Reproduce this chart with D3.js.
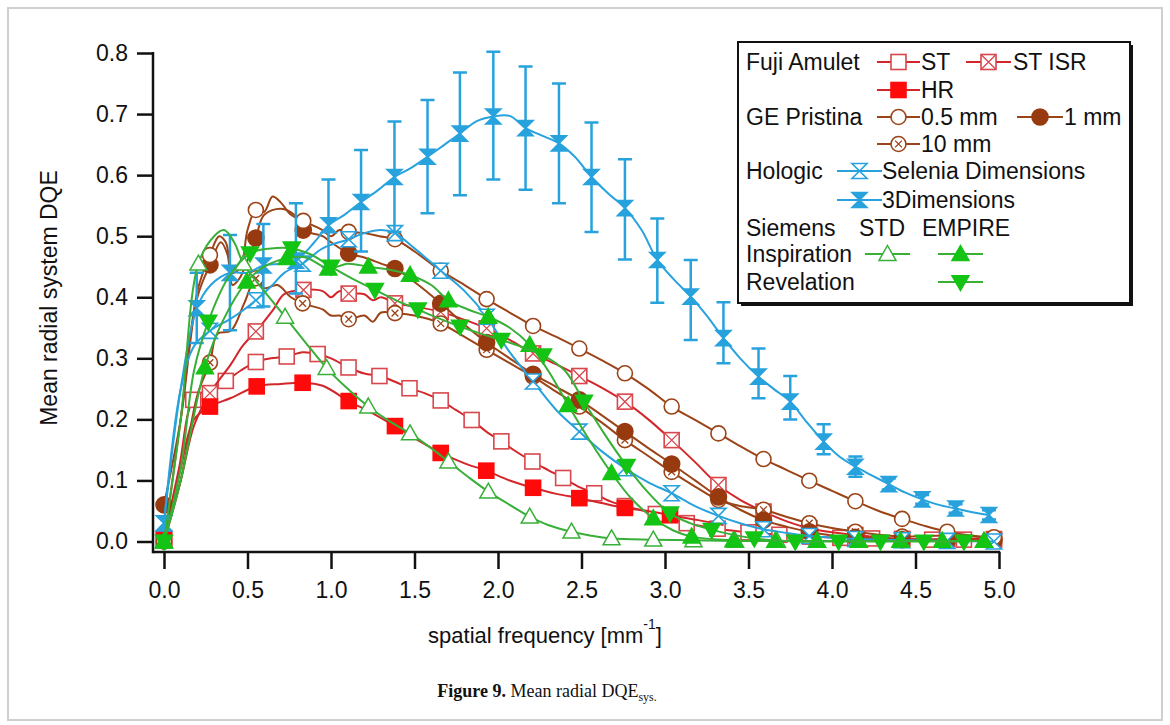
<!DOCTYPE html>
<html>
<head>
<meta charset="utf-8">
<script src="https://cdn.jsdelivr.net/npm/d3@7"></script>
<style>
  body { margin: 0; background: #fff; }
  text { font-family: "Liberation Sans", Arial, sans-serif; fill: #111; }
</style>
</head>
<body>
<svg id="chart" width="1170" height="725"></svg>
<script>
// ---- data : [spatial frequency, DQE] ----
const xTicks = [0, 0.5, 1, 1.5, 2, 2.5, 3, 3.5, 4, 4.5, 5];
const yTicks = [0, 0.1, 0.2, 0.3, 0.4, 0.5, 0.6, 0.7, 0.8];

// Fuji Amulet ST (open square)
const fujiStMarks = [[0,0.005],[0.175,0.232],[0.37,0.263],[0.55,0.294],[0.735,0.303],[0.92,0.307],[1.105,0.285],[1.29,0.271],[1.47,0.251],[1.657,0.231],[1.842,0.199],[2.02,0.164],[2.206,0.131],[2.39,0.104],[2.576,0.079],[2.76,0.058],[2.945,0.045],[3.13,0.03],[3.315,0.021],[3.5,0.015],[3.685,0.011],[3.87,0.008],[4.05,0.006],[4.24,0.005],[4.42,0.004],[4.6,0.003],[4.79,0.003],[4.97,0.003]];
const fujiStExtra = [[0.09,0.12],[0.27,0.25],[0.46,0.28],[0.64,0.3],[0.83,0.31],[1.0,0.3],[1.2,0.275],[1.38,0.262],[1.56,0.243],[1.75,0.215],[1.93,0.18],[2.11,0.147],[2.3,0.117],[2.48,0.09],[2.67,0.066]];

// Fuji Amulet ST ISR (crossed square)
const fujiIsrMarks = [[0,0.005],[0.275,0.243],[0.55,0.344],[0.835,0.412],[1.106,0.406],[1.383,0.39],[1.657,0.376],[1.932,0.349],[2.21,0.308],[2.487,0.271],[2.76,0.229],[3.04,0.166],[3.32,0.0925],[3.59,0.049],[3.864,0.0216],[4.14,0.0107],[4.42,0.004],[4.69,0.004],[4.97,0.004]];
const fujiIsrExtra = [[0.1,0.1],[0.18,0.19],[0.4,0.29],[0.47,0.32],[0.65,0.378],[0.72,0.405],[0.95,0.41],[1.0,0.4],[1.05,0.41],[1.2,0.405],[1.25,0.395],[1.3,0.4],[1.5,0.385],[1.8,0.363],[2.07,0.33],[2.35,0.29],[2.62,0.252],[2.9,0.2],[3.18,0.13],[3.45,0.068],[3.73,0.033],[4.0,0.015]];

// Fuji Amulet HR (filled square)
const fujiHrMarks = [[0,0.003],[0.275,0.221],[0.555,0.254],[0.83,0.26],[1.106,0.23],[1.383,0.189],[1.657,0.145],[1.93,0.116],[2.21,0.088],[2.487,0.071],[2.76,0.055],[3.03,0.043]];
const fujiHrExtra = [[0.1,0.12],[0.18,0.2],[0.4,0.235],[0.7,0.258],[0.95,0.255],[1.25,0.21],[1.52,0.166],[1.8,0.128],[2.07,0.1],[2.35,0.078],[2.62,0.063],[2.9,0.05],[3.2,0.035],[3.35,0.027]];

// GE Pristina 0.5 mm (open circle)
const ge05Marks = [[0,0.0],[0.275,0.469],[0.55,0.543],[0.834,0.525],[1.106,0.507],[1.383,0.495],[1.657,0.4435],[1.932,0.397],[2.21,0.353],[2.487,0.316],[2.76,0.2755],[3.04,0.221],[3.32,0.177],[3.59,0.135],[3.864,0.0996],[4.14,0.066],[4.42,0.037],[4.69,0.016],[4.97,0.007]];
const ge05Extra = [[0.1,0.2],[0.2,0.41],[0.33,0.5],[0.37,0.49],[0.41,0.44],[0.46,0.45],[0.5,0.51],[0.6,0.54],[0.65,0.565],[0.7,0.555],[0.76,0.535],[0.95,0.51],[1.0,0.5],[1.05,0.51],[1.2,0.505],[1.29,0.5],[1.5,0.475],[1.8,0.42],[2.07,0.375],[2.35,0.335],[2.62,0.297],[2.9,0.25],[3.18,0.199],[3.45,0.156],[3.73,0.117],[4.0,0.083],[4.28,0.05],[4.55,0.026],[4.83,0.01]];

// GE Pristina 1 mm (filled circle)
const ge1Marks = [[0,0.06],[0.275,0.453],[0.55,0.497],[0.834,0.51],[1.106,0.472],[1.383,0.447],[1.657,0.39],[1.932,0.326],[2.21,0.274],[2.487,0.232],[2.76,0.18],[3.04,0.127],[3.32,0.073],[3.59,0.035],[3.864,0.016],[4.14,0.007],[4.42,0.003],[4.69,0.002],[4.97,0.002]];
const ge1Extra = [[0.1,0.2],[0.2,0.4],[0.34,0.49],[0.38,0.47],[0.41,0.42],[0.45,0.43],[0.5,0.46],[0.6,0.535],[0.7,0.545],[0.78,0.535],[0.95,0.5],[1.0,0.49],[1.2,0.465],[1.3,0.455],[1.5,0.425],[1.8,0.355],[2.07,0.3],[2.35,0.253],[2.62,0.207],[2.9,0.153],[3.18,0.1],[3.45,0.052],[3.73,0.024],[4.0,0.01]];

// GE Pristina 10 mm (crossed circle)
const ge10Marks = [[0,0.0],[0.275,0.293],[0.55,0.431],[0.83,0.39],[1.106,0.364],[1.383,0.374],[1.657,0.357],[1.932,0.314],[2.21,0.27],[2.487,0.221],[2.76,0.166],[3.04,0.114],[3.32,0.068],[3.59,0.052],[3.864,0.03],[4.14,0.016],[4.42,0.008],[4.69,0.01],[4.97,0.006]];
const ge10Extra = [[0.1,0.1],[0.2,0.24],[0.32,0.34],[0.4,0.345],[0.48,0.39],[0.6,0.415],[0.68,0.42],[0.76,0.4],[0.95,0.38],[1.0,0.37],[1.05,0.37],[1.2,0.37],[1.25,0.36],[1.3,0.375],[1.5,0.37],[1.8,0.335],[2.07,0.292],[2.35,0.245],[2.62,0.195],[2.9,0.14],[3.18,0.09],[3.45,0.058],[3.73,0.04],[4.0,0.022],[4.28,0.011]];

// Hologic Selenia Dimensions (open hourglass)
const selMarks = [[0,0.03],[0.275,0.345],[0.55,0.395],[0.83,0.455],[1.106,0.495],[1.383,0.505],[1.657,0.4435],[1.932,0.368],[2.21,0.262],[2.487,0.18],[2.76,0.12],[3.04,0.079],[3.32,0.042],[3.59,0.02],[3.864,0.009],[4.14,0.004],[4.42,0.002],[4.69,0.001],[4.97,0.0]];
const selExtra = [[0.1,0.25],[0.18,0.32],[0.4,0.365],[0.48,0.38],[0.65,0.42],[0.72,0.44],[0.95,0.48],[1.2,0.505],[1.3,0.51],[1.5,0.48],[1.8,0.41],[2.07,0.31],[2.35,0.215],[2.62,0.148],[2.9,0.097],[3.18,0.058],[3.45,0.03],[3.73,0.014]];

// Hologic 3Dimensions (filled hourglass) with error bars
const dim3Marks = [[0,0.03],[0.196,0.382],[0.395,0.44],[0.595,0.452],[0.79,0.46],[0.985,0.518],[1.18,0.556],[1.38,0.597],[1.578,0.63],[1.772,0.668],[1.972,0.696],[2.165,0.677],[2.365,0.652],[2.56,0.597],[2.76,0.546],[2.954,0.461],[3.154,0.401],[3.35,0.333],[3.56,0.27],[3.75,0.229],[3.95,0.1635],[4.14,0.1225],[4.34,0.094],[4.54,0.069],[4.74,0.054],[4.94,0.0434]];
const dim3Extra = [[0.1,0.25],[0.28,0.42],[0.5,0.44],[0.7,0.455],[0.9,0.49],[1.08,0.535],[1.28,0.575],[1.48,0.612],[1.68,0.65],[1.87,0.688],[2.07,0.697],[2.26,0.665],[2.46,0.63],[2.66,0.57],[2.86,0.51],[3.05,0.43],[3.25,0.37],[3.45,0.3],[3.65,0.25],[3.85,0.195],[4.04,0.14],[4.24,0.108],[4.44,0.08],[4.64,0.06],[4.84,0.048]];
const dim3ErrLow  = [0.02,0.325,0.346,0.385,0.406,0.45,0.475,0.507,0.5375,0.567,0.593,0.576,0.554,0.507,0.462,0.391,0.33,0.292,0.2345,0.2,0.143,0.106,0.085,0.062,0.047,0.036];
const dim3ErrHigh = [0.04,0.44,0.502,0.52,0.554,0.593,0.641,0.688,0.723,0.768,0.802,0.778,0.75,0.686,0.626,0.529,0.461,0.392,0.316,0.271,0.192,0.139,0.103,0.076,0.061,0.051];

// Siemens Inspiration STD (open triangle up)
const inspStdMarks = [[0,0.0],[0.206,0.455],[0.475,0.455],[0.725,0.368],[0.974,0.284],[1.223,0.221],[1.473,0.177],[1.703,0.131],[1.942,0.0816],[2.19,0.0407],[2.44,0.016],[2.68,0.005],[2.93,0.003],[3.17,0.002],[3.42,0.001],[3.67,0.001],[3.91,0.001],[4.16,0.001],[4.41,0.001],[4.66,0.001],[4.91,0.001]];
const inspStdExtra = [[0.1,0.2],[0.3,0.5],[0.36,0.51],[0.42,0.49],[0.6,0.41],[0.85,0.325],[1.1,0.25],[1.35,0.197],[1.6,0.153],[1.82,0.106],[2.07,0.06],[2.3,0.027],[2.55,0.01]];

// Siemens Inspiration EMPIRE (filled triangle up)
const inspEmpMarks = [[0,0.0],[0.245,0.285],[0.495,0.4255],[0.735,0.464],[0.984,0.447],[1.223,0.45],[1.473,0.4365],[1.703,0.395],[1.942,0.368],[2.19,0.322],[2.42,0.2235],[2.68,0.112],[2.93,0.038],[3.16,0.008],[3.41,0.002],[3.66,0.001],[3.91,0.001],[4.16,0.001],[4.41,0.001],[4.66,0.001],[4.91,0.001]];
const inspEmpExtra = [[0.1,0.1],[0.35,0.36],[0.6,0.45],[0.85,0.465],[1.1,0.455],[1.35,0.445],[1.6,0.42],[1.82,0.38],[2.07,0.35],[2.3,0.28],[2.55,0.165],[2.8,0.07],[3.05,0.018]];

// Siemens Revelation EMPIRE (filled triangle down)
const revEmpMarks = [[0,0.0],[0.265,0.36],[0.515,0.472],[0.765,0.48],[1.0,0.45],[1.263,0.412],[1.52,0.38],[1.772,0.352],[2.02,0.33],[2.27,0.305],[2.515,0.229],[2.77,0.124],[3.03,0.046],[3.28,0.019],[3.535,0.005],[3.78,0.0],[4.04,0.0],[4.29,0.0],[4.55,0.0],[4.79,0.0]];
const revEmpExtra = [[0.1,0.12],[0.18,0.28],[0.38,0.43],[0.64,0.48],[0.88,0.47],[1.13,0.43],[1.39,0.395],[1.65,0.365],[1.9,0.34],[2.15,0.318],[2.4,0.28],[2.64,0.175],[2.9,0.08],[3.15,0.03]];

// ---- styles ----
const FUJI = "#d3262b", FUJI_OPEN = "#d8474b", FUJI_FILL = "#ff0a0a";
const GE = "#9b4418", GE_FILL = "#983a0f";
const HOLO = "#27a2dd";
const SIE = "#38b038", SIE_FILL = "#14c414";

const series = [
  { marks: fujiStMarks,  extra: fujiStExtra,  line: FUJI, shape: "square",  stroke: FUJI_OPEN, fill: "#fff" },
  { marks: fujiIsrMarks, extra: fujiIsrExtra, line: FUJI, shape: "squareX", stroke: FUJI_OPEN, fill: "#fff" },
  { marks: fujiHrMarks,  extra: fujiHrExtra,  line: FUJI, shape: "squareF", stroke: FUJI_FILL, fill: FUJI_FILL },
  { marks: ge10Marks,    extra: ge10Extra,    line: GE, shape: "circleX", stroke: GE, fill: "#fff" },
  { marks: ge1Marks,     extra: ge1Extra,     line: GE, shape: "circleF", stroke: GE_FILL, fill: GE_FILL },
  { marks: ge05Marks,    extra: ge05Extra,    line: GE, shape: "circle",  stroke: GE, fill: "#fff" },
  { marks: selMarks,     extra: selExtra,     line: HOLO, shape: "hour",  stroke: HOLO, fill: "#fff" },
  { marks: dim3Marks,    extra: dim3Extra,    line: HOLO, shape: "hourF", stroke: HOLO, fill: HOLO, errLow: dim3ErrLow, errHigh: dim3ErrHigh },
  { marks: inspStdMarks, extra: inspStdExtra, line: SIE, shape: "triUp",  stroke: SIE, fill: "#fff" },
  { marks: inspEmpMarks, extra: inspEmpExtra, line: SIE, shape: "triUpF", stroke: SIE_FILL, fill: SIE_FILL },
  { marks: revEmpMarks,  extra: revEmpExtra,  line: SIE, shape: "triDnF", stroke: SIE_FILL, fill: SIE_FILL }
];

const svg = d3.select("#chart");

// light figure frame
svg.append("rect").attr("x", 8).attr("y", 8).attr("width", 1154).attr("height", 712)
  .attr("fill", "none").attr("stroke", "#cfcfcf").attr("stroke-width", 2);

const xScale = d3.scaleLinear().domain([0, 5]).range([164, 999]);
const yScale = d3.scaleLinear().domain([0, 0.8]).range([541.5, 53]);
const axisX0 = 153, axisY0 = 552;

// axes
const yAxis = d3.axisLeft(yScale).tickValues(yTicks).tickSize(16).tickPadding(9).tickFormat(d3.format(".1f"));
const gy = svg.append("g").attr("transform", `translate(${axisX0},0)`).call(yAxis);
const xAxis = d3.axisBottom(xScale).tickValues(xTicks).tickSize(17).tickPadding(13).tickFormat(d3.format(".1f"));
const gx = svg.append("g").attr("transform", `translate(0,${axisY0})`).call(xAxis);
[gx, gy].forEach(g => {
  g.select(".domain").remove();
  g.selectAll(".tick line").attr("stroke", "#111").attr("stroke-width", 2.5);
  g.selectAll(".tick text").attr("font-size", 23).attr("font-family", "Liberation Sans, Arial, sans-serif").attr("fill", "#111");
});
svg.append("line").attr("x1", axisX0).attr("x2", axisX0).attr("y1", yScale(0.8) - 1).attr("y2", axisY0 + 1.2)
  .attr("stroke", "#111").attr("stroke-width", 2.5);
svg.append("line").attr("x1", axisX0).attr("x2", xScale(5) + 1.2).attr("y1", axisY0).attr("y2", axisY0)
  .attr("stroke", "#111").attr("stroke-width", 2.5);

// axis titles
svg.append("text").attr("transform", "translate(57,298) rotate(-90)")
  .attr("text-anchor", "middle").attr("font-size", 23).text("Mean radial system DQE");
const xt = svg.append("text").attr("x", 545).attr("y", 643).attr("text-anchor", "middle").attr("font-size", 22);
xt.append("tspan").text("spatial frequency [mm");
xt.append("tspan").attr("font-size", 14).attr("dy", -14).text("-1");
xt.append("tspan").attr("dy", 14).text("]");

// caption
const cap = svg.append("text").attr("x", 547).attr("y", 697).attr("text-anchor", "middle")
  .attr("font-size", 18).style("font-family", "'Liberation Serif', 'Times New Roman', serif");
cap.append("tspan").attr("font-weight", "bold").text("Figure 9.");
cap.append("tspan").text(" Mean radial DQE");
cap.append("tspan").attr("font-size", 12).attr("dy", 4).text("sys.");

// marker drawing
function marker(g, shape, stroke, fill) {
  const s = 7.5;
  if (shape.startsWith("square")) {
    g.append("rect").attr("x", -s).attr("y", -s).attr("width", 2 * s).attr("height", 2 * s)
      .attr("fill", fill).attr("stroke", stroke).attr("stroke-width", 1.6);
    if (shape === "squareX") {
      g.append("path").attr("d", `M${-s},${-s}L${s},${s}M${s},${-s}L${-s},${s}`)
        .attr("stroke", stroke).attr("stroke-width", 1.3);
    }
  } else if (shape.startsWith("circle")) {
    g.append("circle").attr("r", shape === "circleF" ? 8 : 7.5)
      .attr("fill", fill).attr("stroke", stroke).attr("stroke-width", 1.6);
    if (shape === "circleX") {
      const c = 3.4;
      g.append("path").attr("d", `M${-c},${-c}L${c},${c}M${c},${-c}L${-c},${c}`)
        .attr("stroke", stroke).attr("stroke-width", 1.3);
    }
  } else if (shape.startsWith("hour")) {
    const h = 7.5;
    g.append("path").attr("d", `M${-h},${-h}L${h},${-h}L${-h},${h}L${h},${h}Z`)
      .attr("fill", fill).attr("stroke", stroke).attr("stroke-width", 1.6).attr("stroke-linejoin", "miter");
  } else if (shape.startsWith("triUp")) {
    const t = 8.5;
    g.append("path").attr("d", `M0,${-t}L${t},${t * 0.75}L${-t},${t * 0.75}Z`)
      .attr("fill", fill).attr("stroke", stroke).attr("stroke-width", 1.5);
  } else if (shape.startsWith("triDn")) {
    const t = 8.5;
    g.append("path").attr("d", `M0,${t}L${t},${-t * 0.75}L${-t},${-t * 0.75}Z`)
      .attr("fill", fill).attr("stroke", stroke).attr("stroke-width", 1.5);
  }
}

const lineGen = d3.line().x(d => xScale(d[0])).y(d => yScale(d[1])).curve(d3.curveCatmullRom.alpha(0.5));

const plot = svg.append("g");
series.forEach(sr => {
  const g = plot.append("g");
  const pts = sr.marks.concat(sr.extra).sort((a, b) => a[0] - b[0]);
  g.append("path").datum(pts).attr("d", lineGen)
    .attr("fill", "none").attr("stroke", sr.line).attr("stroke-width", 2);
  if (sr.errLow) {
    sr.marks.forEach((d, i) => {
      if (i === 0) return;
      const cx = xScale(d[0]), y1 = yScale(sr.errLow[i]), y2 = yScale(sr.errHigh[i]);
      g.append("path").attr("d", `M${cx},${y1}V${y2}M${cx - 7},${y1}H${cx + 7}M${cx - 7},${y2}H${cx + 7}`)
        .attr("stroke", sr.line).attr("stroke-width", 2.5).attr("fill", "none");
    });
  }
  g.selectAll("g.m").data(sr.marks).join("g").attr("class", "m")
    .attr("transform", d => `translate(${xScale(d[0])},${yScale(d[1])})`)
    .each(function () { marker(d3.select(this), sr.shape, sr.stroke, sr.fill); });
});

// legend
const lg = svg.append("g");
lg.append("rect").attr("x", 741).attr("y", 45).attr("width", 392).attr("height", 261).attr("fill", "#111");
lg.append("rect").attr("x", 738).attr("y", 42).attr("width", 392).attr("height", 261)
  .attr("fill", "#fff").attr("stroke", "#111").attr("stroke-width", 2);

const rowY = [62, 90, 117, 144, 171, 200, 228, 254, 282];
const legendTexts = [
  ["Fuji Amulet", 746, 0], ["ST", 921, 0], ["ST ISR", 1013, 0], ["HR", 921, 1],
  ["GE Pristina", 746, 2], ["0.5 mm", 921, 2], ["1 mm", 1064, 2], ["10 mm", 921, 3],
  ["Hologic", 746, 4], ["Selenia Dimensions", 882, 4], ["3Dimensions", 882, 5],
  ["Siemens", 746, 6], ["STD", 859, 6], ["EMPIRE", 922, 6],
  ["Inspiration", 746, 7], ["Revelation", 746, 8]
];
legendTexts.forEach(([t, x, r]) => {
  lg.append("text").attr("x", x).attr("y", rowY[r]).attr("dy", "0.36em").attr("font-size", 23).text(t);
});
// samples: [series index, x1, x2, row]
const legendSamples = [
  [0, 877, 920, 0], [1, 966, 1011, 0], [2, 877, 920, 1],
  [5, 877, 920, 2], [4, 1017, 1063, 2], [3, 877, 920, 3],
  [6, 837, 882, 4], [7, 837, 882, 5],
  [8, 865, 910, 7], [9, 938, 983, 7], [10, 938, 983, 8]
];
legendSamples.forEach(([si, x1, x2, r]) => {
  const sr = series[si];
  lg.append("line").attr("x1", x1).attr("x2", x2).attr("y1", rowY[r]).attr("y2", rowY[r])
    .attr("stroke", sr.line).attr("stroke-width", 2);
  const m = lg.append("g").attr("transform", `translate(${(x1 + x2) / 2},${rowY[r]})`);
  marker(m, sr.shape, sr.stroke, sr.fill);
});
</script>
</body>
</html>
